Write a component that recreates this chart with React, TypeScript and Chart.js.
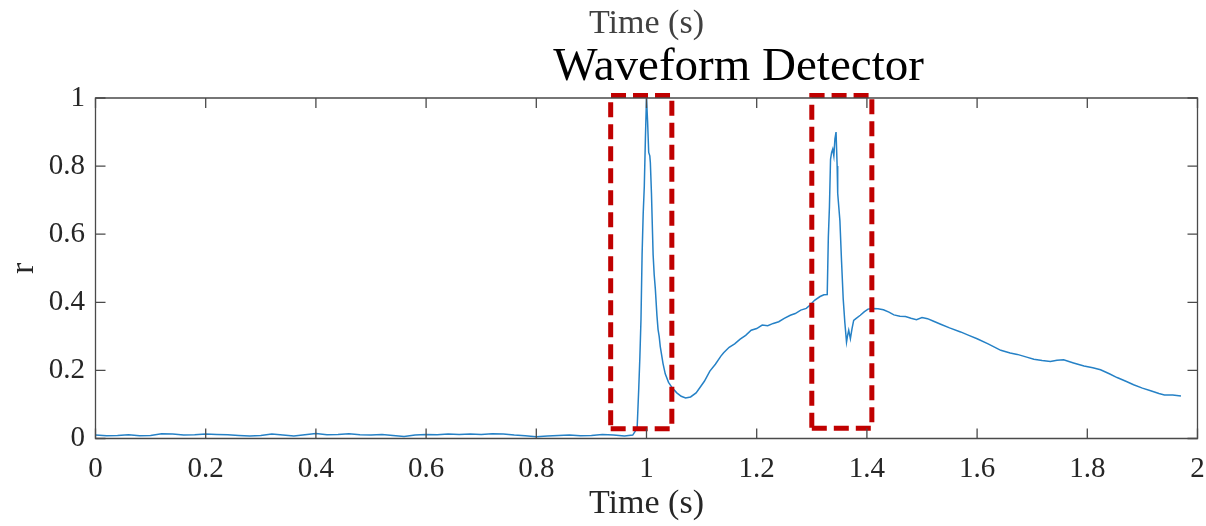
import React, { useEffect, useRef } from "react";
import { Chart, registerables } from "chart.js";

Chart.register(...registerables);

// ---------- data ----------
const TIME_S: number[] = [
  0.0, 0.02, 0.04, 0.06, 0.08, 0.1, 0.12, 0.14, 0.16, 0.18,
  0.2, 0.22, 0.24, 0.26, 0.28, 0.3, 0.32, 0.34, 0.36, 0.38,
  0.4, 0.42, 0.44, 0.46, 0.48, 0.5, 0.52, 0.54, 0.56, 0.58,
  0.6, 0.62, 0.64, 0.66, 0.68, 0.7, 0.72, 0.74, 0.76, 0.78,
  0.8, 0.82, 0.84, 0.86, 0.88, 0.9, 0.92, 0.94, 0.96, 0.975,
  0.983, 0.986, 0.988, 0.99, 0.992, 0.994, 0.996, 0.998, 1.0, 1.002,
  1.004, 1.006, 1.007, 1.009, 1.011, 1.012, 1.014, 1.016, 1.019, 1.021,
  1.023, 1.025, 1.03, 1.034, 1.04, 1.047, 1.055, 1.063, 1.071, 1.08,
  1.09, 1.098, 1.105, 1.115, 1.125, 1.135, 1.14, 1.15, 1.16, 1.17,
  1.18, 1.19, 1.2, 1.21, 1.22, 1.23, 1.24, 1.25, 1.261, 1.27,
  1.28, 1.29, 1.297, 1.305, 1.315, 1.322, 1.328, 1.33, 1.332, 1.334,
  1.336, 1.338, 1.34, 1.342, 1.344, 1.346, 1.347, 1.349, 1.351, 1.354,
  1.357, 1.36, 1.363, 1.365, 1.367, 1.37, 1.373, 1.376, 1.38, 1.388,
  1.395, 1.402, 1.41, 1.42, 1.43, 1.44, 1.449, 1.46, 1.47, 1.48,
  1.49, 1.5, 1.51, 1.52, 1.535, 1.55, 1.57, 1.585, 1.6, 1.62,
  1.643, 1.66, 1.673, 1.69, 1.703, 1.718, 1.733, 1.745, 1.757, 1.775,
  1.794, 1.81, 1.824, 1.84, 1.854, 1.87, 1.884, 1.9, 1.915, 1.93,
  1.94, 1.955, 1.97,
];

const R_VALUES: number[] = [
  0.01, 0.008, 0.009, 0.011, 0.008, 0.009, 0.014, 0.013, 0.01, 0.011,
  0.013, 0.012, 0.011, 0.009, 0.007, 0.009, 0.013, 0.01, 0.007, 0.011,
  0.015, 0.011, 0.012, 0.014, 0.011, 0.01, 0.012, 0.009, 0.006, 0.01,
  0.012, 0.011, 0.013, 0.012, 0.013, 0.012, 0.014, 0.013, 0.01, 0.008,
  0.005, 0.007, 0.009, 0.01, 0.008, 0.009, 0.012, 0.01, 0.007, 0.01,
  0.03, 0.15, 0.24, 0.35, 0.54, 0.66, 0.74, 0.88, 1.0, 0.93,
  0.84, 0.83, 0.81, 0.72, 0.6, 0.54, 0.48, 0.44, 0.36, 0.32,
  0.3, 0.27, 0.22, 0.19, 0.165, 0.148, 0.134, 0.124, 0.119, 0.122,
  0.134, 0.152, 0.168, 0.198, 0.218, 0.242, 0.252, 0.268, 0.278, 0.292,
  0.303, 0.318, 0.323, 0.333, 0.331, 0.338, 0.343, 0.353, 0.362, 0.367,
  0.377, 0.382, 0.392, 0.406, 0.417, 0.422, 0.423, 0.59, 0.68, 0.82,
  0.84, 0.85, 0.83, 0.88, 0.9, 0.8, 0.72, 0.68, 0.64, 0.52,
  0.41, 0.34, 0.283, 0.303, 0.318, 0.293, 0.323, 0.347, 0.352, 0.362,
  0.372, 0.38, 0.382, 0.381, 0.378, 0.371, 0.363, 0.359, 0.358, 0.353,
  0.349, 0.355, 0.352, 0.345, 0.335, 0.325, 0.313, 0.303, 0.293, 0.278,
  0.259, 0.251, 0.247, 0.239, 0.233, 0.229, 0.226, 0.23, 0.231, 0.222,
  0.213, 0.208, 0.202, 0.19, 0.179, 0.168, 0.158, 0.148, 0.14, 0.132,
  0.128, 0.128, 0.125,
];

// detector boxes: [tStart, tEnd], [rBottom, rTop]
const BOX1_T: number[] = [0.935, 1.046];
const BOX1_R: number[] = [0.029, 1.007];
const BOX2_T: number[] = [1.3, 1.409];
const BOX2_R: number[] = [0.03, 1.007];

const X_TICKS: number[] = [0, 0.2, 0.4, 0.6, 0.8, 1, 1.2, 1.4, 1.6, 1.8, 2];
const Y_TICKS: number[] = [0, 0.2, 0.4, 0.6, 0.8, 1];

const X_LABEL = "Time (s)";
const Y_LABEL = "r";
const TOP_LABEL = "Time (s)";
const TITLE = "Waveform Detector";

const SERIF = '"Liberation Serif", "Times New Roman", Times, serif';

function boxPoints(t: number[], r: number[]) {
  return [
    { x: t[0], y: r[0] },
    { x: t[1], y: r[0] },
    { x: t[1], y: r[1] },
    { x: t[0], y: r[1] },
    { x: t[0], y: r[0] },
  ];
}

const framePlugin = {
  id: "matlabFrame",
  afterDatasetsDraw(chart: any) {
    const { ctx, chartArea, scales } = chart;
    const { left, right, top, bottom } = chartArea;
    const xs = scales.x;
    const ys = scales.y;
    const tl = 10;
    ctx.save();
    ctx.strokeStyle = "#4a4a4a";
    ctx.lineWidth = 1.3;
    ctx.beginPath();
    ctx.rect(left, top, right - left, bottom - top);
    ctx.stroke();
    ctx.beginPath();
    xs.ticks.forEach((tk: any) => {
      const px = xs.getPixelForValue(tk.value);
      ctx.moveTo(px, bottom);
      ctx.lineTo(px, bottom - tl);
      ctx.moveTo(px, top);
      ctx.lineTo(px, top + tl);
    });
    ys.ticks.forEach((tk: any) => {
      const py = ys.getPixelForValue(tk.value);
      ctx.moveTo(left, py);
      ctx.lineTo(left + tl, py);
      ctx.moveTo(right, py);
      ctx.lineTo(right - tl, py);
    });
    ctx.stroke();
    ctx.restore();
  },
};

const titlePlugin = {
  id: "offsetTitle",
  afterDraw(chart: any) {
    const { ctx, chartArea } = chart;
    const cx = (chartArea.left + chartArea.right) / 2 + 92;
    ctx.save();
    ctx.font = `47px ${SERIF}`;
    ctx.fillStyle = "#000000";
    ctx.textAlign = "center";
    ctx.textBaseline = "alphabetic";
    ctx.fillText(TITLE, cx, chartArea.top - 18);
    ctx.restore();
  },
};

export default function App() {
  const canvasRef = useRef<HTMLCanvasElement | null>(null);

  useEffect(() => {
    document.body.style.margin = "0";
    const canvas = canvasRef.current;
    if (!canvas) return;
    const curve = TIME_S.map((t, i) => ({ x: t, y: R_VALUES[i] }));

    const boxStyle = {
      borderColor: "#c00000",
      borderWidth: 5,
      borderDash: [15, 7],
      borderJoinStyle: "miter",
      pointRadius: 0,
      fill: false,
      tension: 0,
      clip: false as any,
    };

    const chart = new Chart(canvas, {
      type: "line",
      data: {
        datasets: [
          { label: "box1", data: boxPoints(BOX1_T, BOX1_R), ...boxStyle },
          { label: "box2", data: boxPoints(BOX2_T, BOX2_R), ...boxStyle },
          {
            label: "r",
            data: curve,
            borderColor: "#2581c6",
            borderWidth: 1.5,
            pointRadius: 0,
            fill: false,
            tension: 0,
          },
        ],
      },
      options: {
        responsive: false,
        animation: false,
        layout: { padding: { left: 0, right: 8.5, top: 0, bottom: 0 } },
        plugins: {
          legend: { display: false },
          tooltip: { enabled: false },
          title: {
            display: true,
            text: TOP_LABEL,
            fullSize: false,
            color: "#404040",
            font: { family: SERIF, size: 34, weight: "normal" },
            padding: { top: 4, bottom: 53.2 },
          },
        },
        scales: {
          x: {
            type: "linear",
            min: 0,
            max: 2,
            afterBuildTicks: (s: any) => {
              s.ticks = X_TICKS.map((v) => ({ value: v }));
            },
            afterFit: (s: any) => {
              s.height = 87.5;
              s.paddingLeft = 0;
              s.paddingRight = 0;
            },
            grid: { display: false, drawTicks: false },
            border: { display: false },
            ticks: {
              color: "#262626",
              font: { family: SERIF, size: 29 },
              padding: 13,
              maxRotation: 0,
              autoSkip: false,
              callback: (v: any) => String(Number(v)),
            },
            title: {
              display: true,
              text: X_LABEL,
              color: "#262626",
              font: { family: SERIF, size: 34 },
              padding: { top: 0, bottom: 2 },
            },
          },
          y: {
            type: "linear",
            min: 0,
            max: 1,
            afterBuildTicks: (s: any) => {
              s.ticks = Y_TICKS.map((v) => ({ value: v }));
            },
            afterFit: (s: any) => {
              s.width = 95.5;
              s.paddingTop = 0;
              s.paddingBottom = 0;
            },
            grid: { display: false, drawTicks: false },
            border: { display: false },
            ticks: {
              color: "#262626",
              font: { family: SERIF, size: 29 },
              padding: 10.5,
              autoSkip: false,
              callback: (v: any) => String(Number(v)),
            },
            title: {
              display: true,
              text: Y_LABEL,
              color: "#262626",
              font: { family: SERIF, size: 34 },
              padding: { top: 4, bottom: 0 },
            },
          },
        },
      },
      plugins: [framePlugin, titlePlugin],
    } as any);

    return () => {
      chart.destroy();
    };
  }, []);

  return (
    <div style={{ width: 1206, height: 526, background: "#ffffff" }}>
      <canvas ref={canvasRef} width={1206} height={526} style={{ display: "block" }} />
    </div>
  );
}
